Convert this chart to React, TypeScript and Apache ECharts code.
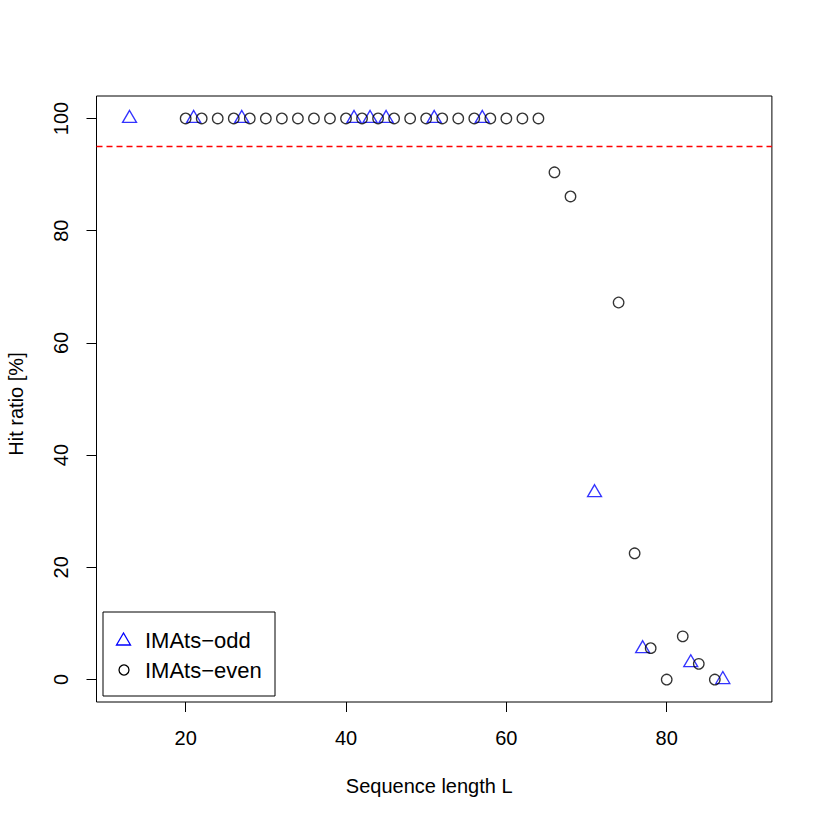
import React, { useEffect, useRef } from "react";
import * as echarts from "echarts";

const oddL = [13, 21, 27, 41, 43, 45, 51, 57, 71, 77, 83, 87];
const oddHit = [100, 100, 100, 100, 100, 100, 100, 100, 33.3, 5.5, 3.0, 0];

const evenL = [20, 22, 24, 26, 28, 30, 32, 34, 36, 38, 40, 42, 44, 46, 48, 50, 52, 54, 56, 58, 60, 62, 64, 66, 68, 74, 76, 78, 80, 82, 84, 86];
const evenHit = [100, 100, 100, 100, 100, 100, 100, 100, 100, 100, 100, 100, 100, 100, 100, 100, 100, 100, 100, 100, 100, 100, 100, 90.4, 86.1, 67.2, 22.5, 5.6, 0, 7.7, 2.8, 0];

const xTicks = [20, 40, 60, 80];
const yTicks = [0, 20, 40, 60, 80, 100];
const threshold = 95;

// plot box limits (R style, 4% padding)
const X_MIN = 8.88;
const X_MAX = 93.12;
const Y_MIN = -4;
const Y_MAX = 104;

// box position in pixels
const BOX_LEFT = 96.5;
const BOX_RIGHT = 771.9;
const BOX_TOP = 96;
const BOX_BOTTOM = 702;
const TICK_LEN = 10;

// grid extended by the tick length on the left and bottom, so the ticks fall inside it
const X_PER_PX = (X_MAX - X_MIN) / (BOX_RIGHT - BOX_LEFT);
const Y_PER_PX = (Y_MAX - Y_MIN) / (BOX_BOTTOM - BOX_TOP);
const AX_X_MIN = X_MIN - TICK_LEN * X_PER_PX;
const AX_Y_MIN = Y_MIN - TICK_LEN * Y_PER_PX;

const legendNames = ["IMAts\u2212odd", "IMAts\u2212even"];
const FONT = "Liberation Sans, Arial, Helvetica, sans-serif";

export default function App() {
  const ref = useRef<HTMLDivElement>(null);
  useEffect(() => {
    if (!ref.current) return;
    const chart = echarts.init(ref.current, null, { renderer: "svg" });
    const legendGraphic = {
      type: "group",
      id: "legendBox",
      children: [
        {
          type: "rect",
          shape: { x: 103, y: 612, width: 172, height: 84 },
          style: { fill: "#fff", stroke: "#000", lineWidth: 1 },
          z: 10,
        },
        {
          type: "polygon",
          shape: { points: [[116.5, 645], [130.5, 645], [123.5, 633]] },
          style: { fill: "none", stroke: "#0000ff", lineWidth: 1.3 },
          z: 11,
        },
        {
          type: "circle",
          shape: { cx: 124, cy: 670, r: 5 },
          style: { fill: "none", stroke: "#000", lineWidth: 1.3 },
          z: 11,
        },
        {
          type: "text",
          x: 145,
          y: 640,
          style: { text: legendNames[0], fontSize: 22, fontFamily: FONT, fill: "#000", verticalAlign: "middle" },
          z: 11,
        },
        {
          type: "text",
          x: 145,
          y: 670,
          style: { text: legendNames[1], fontSize: 22, fontFamily: FONT, fill: "#000", verticalAlign: "middle" },
          z: 11,
        },
      ],
    };
    chart.setOption({
      animation: false,
      backgroundColor: "#fff",
      textStyle: { fontFamily: FONT },
      grid: {
        left: BOX_LEFT - TICK_LEN,
        right: 822 - BOX_RIGHT,
        top: BOX_TOP,
        bottom: 822 - BOX_BOTTOM - TICK_LEN,
        show: false,
        containLabel: false,
        outerBoundsMode: "none",
      },
      xAxis: {
        type: "value",
        min: AX_X_MIN,
        max: X_MAX,
        axisLine: { show: false, onZero: false },
        axisTick: { show: true, inside: true, length: TICK_LEN, customValues: xTicks, lineStyle: { color: "#000", width: 1 } },
        splitLine: { show: false },
        axisLabel: { customValues: xTicks, fontSize: 20, color: "#000", margin: 16, fontFamily: FONT },
        name: "Sequence length L",
        nameLocation: "middle",
        nameGap: 64,
        nameTextStyle: { fontSize: 20, color: "#000", fontFamily: FONT },
      },
      yAxis: {
        type: "value",
        min: AX_Y_MIN,
        max: Y_MAX,
        axisLine: { show: false, onZero: false },
        axisTick: { show: true, inside: true, length: TICK_LEN, customValues: yTicks, lineStyle: { color: "#000", width: 1 } },
        splitLine: { show: false },
        axisLabel: { customValues: yTicks, fontSize: 20, color: "#000", margin: 16, rotate: 90, fontFamily: FONT },
        name: "Hit ratio [%]",
        nameLocation: "middle",
        nameGap: 61,
        nameTextStyle: { fontSize: 20, color: "#000", fontFamily: FONT },
      },
      series: [
        {
          name: legendNames[0],
          type: "scatter",
          data: oddL.map((l, i) => [l, oddHit[i]]),
          symbol: "triangle",
          symbolSize: [14, 12],
          symbolOffset: [0, -2],
          itemStyle: { color: "rgba(0,0,0,0)", borderColor: "#0000ff", borderWidth: 1.3 },
          z: 3,
        },
        {
          name: legendNames[1],
          type: "scatter",
          data: evenL.map((l, i) => [l, evenHit[i]]),
          symbol: "circle",
          symbolSize: 10.5,
          itemStyle: { color: "rgba(0,0,0,0)", borderColor: "#000", borderWidth: 1.3 },
          z: 3,
          markLine: {
            silent: true,
            symbol: ["none", "none"],
            label: { show: false },
            lineStyle: { color: "#ff0000", type: [6, 4], width: 1.3 },
            data: [[{ coord: [X_MIN, threshold] }, { coord: [X_MAX, threshold] }]],
          },
        },
      ],
      graphic: [legendGraphic],
    });

    const p0 = chart.convertToPixel({ gridIndex: 0 }, [X_MIN, Y_MAX]) as number[];
    const p1 = chart.convertToPixel({ gridIndex: 0 }, [X_MAX, Y_MIN]) as number[];
    const boxEl = {
      type: "rect",
      id: "plotBox",
      shape: { x: p0[0], y: p0[1], width: p1[0] - p0[0], height: p1[1] - p0[1] },
      style: { fill: "none", stroke: "#000", lineWidth: 1 },
      z: 5,
      silent: true,
    };
    chart.setOption({ graphic: [legendGraphic, boxEl] });

    return () => chart.dispose();
  }, []);
  return <div ref={ref} style={{ position: "absolute", left: 0, top: 0, width: 822, height: 822 }} />;
}
